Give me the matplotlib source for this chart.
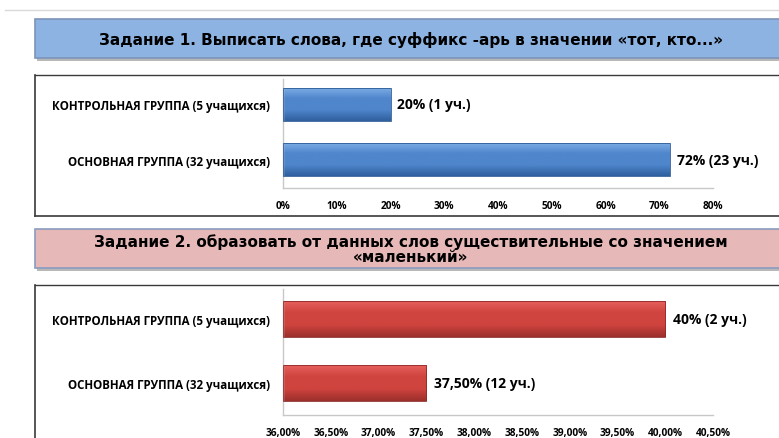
import matplotlib
matplotlib.use("Agg")
import matplotlib.pyplot as plt
import numpy as np
from matplotlib.patches import Rectangle
from matplotlib.colors import LinearSegmentedColormap

# ---------------- data ----------------
categories = ["ОСНОВНАЯ ГРУППА (32 учащихся)", "КОНТРОЛЬНАЯ ГРУППА (5 учащихся)"]

title1 = "Задание 1. Выписать слова, где суффикс -арь в значении «тот, кто...»"
values1 = [72, 20]
labels1 = ["72% (23 уч.)", "20% (1 уч.)"]
ticks1 = [0, 10, 20, 30, 40, 50, 60, 70, 80]
ticklabels1 = ["0%", "10%", "20%", "30%", "40%", "50%", "60%", "70%", "80%"]

title2 = "Задание 2. образовать от данных слов существительные со значением\n«маленький»"
values2 = [37.5, 40.0]
labels2 = ["37,50% (12 уч.)", "40% (2 уч.)"]
ticks2 = [36.0, 36.5, 37.0, 37.5, 38.0, 38.5, 39.0, 39.5, 40.0, 40.5]
ticklabels2 = ["36,00%", "36,50%", "37,00%", "37,50%", "38,00%",
               "38,50%", "39,00%", "39,50%", "40,00%", "40,50%"]

W, H = 779, 439
fig = plt.figure(figsize=(W / 100, H / 100), dpi=100)
fig.patch.set_facecolor("white")

LBL_FONT = ["Open Sans", "DejaVu Sans"]
HDR_FONT = ["DejaVu Sans"]


def px_rect(x0, y0, x1, y1):
    """pixel coords (top-left origin) -> figure fraction rect"""
    return (x0 / W, 1 - y1 / H, (x1 - x0) / W, (y1 - y0) / H)


def fig_line(x0, y0, x1, y1, **kw):
    fig.add_artist(plt.Line2D([x0 / W, x1 / W], [1 - y0 / H, 1 - y1 / H],
                              transform=fig.transFigure, **kw))


def header(y0, y1, color, edge, text, fs):
    # shadow
    sx, sy, sw, sh = px_rect(37, y0 + 3, W + 5, y1 + 3)
    fig.add_artist(Rectangle((sx, sy), sw, sh, transform=fig.transFigure,
                             facecolor="#b8b8b8", edgecolor="none", zorder=1))
    x, y, w, h = px_rect(35, y0, W + 5, y1)
    fig.add_artist(Rectangle((x, y), w, h, transform=fig.transFigure,
                             facecolor=color, edgecolor=edge, linewidth=1.2, zorder=2))
    fig.text(411 / W, 1 - ((y0 + y1) / 2) / H, text, ha="center", va="center",
             fontsize=fs, fontweight="bold", family=HDR_FONT, zorder=3,
             linespacing=0.95)


def chart_box(y0, y1):
    fig_line(35, y0, W, y0, color="#3a3a3a", lw=1.0)
    fig_line(35, y0, 35, y1, color="#3a3a3a", lw=1.2)
    if y1 < H:
        fig_line(35, y1, W, y1, color="#3a3a3a", lw=1.2)


def grad_bars(ax, bars, c_top, c_mid, c_bot, edge):
    cmap = LinearSegmentedColormap.from_list("g", [c_bot, c_mid, c_mid, c_top])
    grad = np.linspace(0, 1, 64).reshape(-1, 1)
    for b in bars:
        x0, y0 = b.get_x(), b.get_y()
        w, h = b.get_width(), b.get_height()
        im = ax.imshow(grad, extent=(x0, x0 + w, y0, y0 + h), origin="lower",
                       cmap=cmap, aspect="auto", zorder=2, interpolation="bicubic")
        im.set_clip_path(b)
        b.set_facecolor("none")
        b.set_edgecolor(edge)
        b.set_linewidth(0.6)
        b.set_zorder(3)


def bar_chart(rect_px, values, labels, ticks, ticklabels, xlim, ylim, bh,
              colors, label_dx, tick_pad):
    x0, y0, x1, y1 = rect_px
    ax = fig.add_axes(px_rect(x0, y0, x1, y1))
    base = xlim[0]
    bars = ax.barh(range(len(values)), [v - base for v in values], height=bh,
                   left=base, color=colors[1])
    grad_bars(ax, bars, *colors)
    ax.set_xlim(*xlim)
    ax.set_ylim(*ylim)
    for sp in ["top", "right"]:
        ax.spines[sp].set_visible(False)
    ax.spines["left"].set_color("#c8c8c8")
    ax.spines["bottom"].set_color("#c8c8c8")
    ax.spines["left"].set_linewidth(1.0)
    ax.spines["bottom"].set_linewidth(1.0)
    ax.set_yticks(range(len(categories)))
    ax.set_yticklabels(categories, fontsize=8.3, fontweight="bold", family=LBL_FONT)
    ax.set_xticks(ticks)
    ax.set_xticklabels(ticklabels, fontsize=7.3, fontweight="bold", family=LBL_FONT)
    ax.tick_params(axis="both", length=0)
    ax.tick_params(axis="y", pad=9.5)
    ax.tick_params(axis="x", pad=tick_pad)
    for i, (v, t) in enumerate(zip(values, labels)):
        ax.text(v + label_dx, i, t, va="center", ha="left", fontsize=10,
                fontweight="bold", family=LBL_FONT)
    return ax


# top thin line
fig_line(5, 11, W, 11, color="#d9d9d9", lw=1.0)

# ---- block 1
header(20, 59, "#8db3e2", "#7b93b8", title1, 11)
chart_box(76, 217)
bar_chart((283, 80, 713, 189), values1, labels1, ticks1, ticklabels1,
          (0, 80), (-0.51, 1.455), 0.6,
          ("#7eaee6", "#4f86cc", "#2f5f9f", "#2d5b95"), 1.3, 9)

# ---- block 2
header(230, 269, "#e6b8b7", "#8a9cc0", title2, 11)
chart_box(286, H + 5)
bar_chart((283, 290, 713, 416), values2, labels2, ticks2, ticklabels2,
          (36.0, 40.5), (-0.5, 1.469), 0.57,
          ("#e8625e", "#d0443f", "#9c2f2b", "#8e2a27"), 0.08, 9)

fig.savefig("out.png", dpi=100, facecolor="white")
